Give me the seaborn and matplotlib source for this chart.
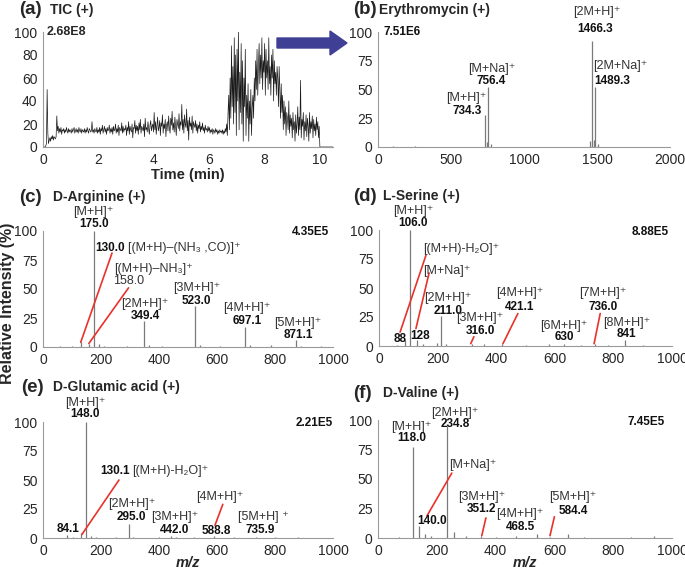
import numpy as np
import matplotlib
matplotlib.use('Agg')
import matplotlib.pyplot as plt
import matplotlib.patches as mpatches
import seaborn as sns

sns.set_style('white')
plt.rcParams['font.family'] = ['Liberation Sans', 'DejaVu Sans']

# (a) TIC, one reading every 0.025 min
tic_intensity = [
    0, 0, 0, 0, 1, 3, 50, 12, 3, 6, 8, 5, 9, 7, 10, 6, 9, 8, 7, 9,
    27, 14, 18, 12, 16, 13, 17, 11, 15, 14, 16, 12, 15, 13, 17, 14, 12, 16, 13, 15,
    14, 12, 16, 13, 15, 17, 12, 14, 16, 13, 15, 12, 17, 14, 13, 16, 12, 15, 14, 13,
    16, 12, 15, 13, 17, 14, 12, 16, 15, 13, 14, 22, 13, 15, 12, 16, 14, 13, 17, 12,
    15, 13, 17, 11, 16, 14, 19, 12, 15, 18, 13, 16, 11, 17, 14, 15, 19, 12, 16, 13,
    17, 11, 18, 14, 15, 20, 12, 16, 13, 19, 10, 17, 15, 14, 21, 12, 18, 13, 16, 15,
    19, 10, 17, 14, 22, 11, 18, 15, 13, 20, 8, 17, 16, 23, 12, 19, 14, 18, 11, 21,
    15, 24, 12, 18, 16, 14, 20, 9, 25, 15, 17, 13, 22, 16, 11, 19, 23, 14, 18, 20,
    13, 30, 15, 22, 11, 19, 26, 14, 17, 23, 10, 21, 18, 28, 12, 20, 16, 24, 9, 19,
    22, 14, 27, 17, 12, 25, 19, 31, 15, 21, 13, 26, 18, 10, 24, 20, 16, 29, 14, 22,
    19, 37, 15, 24, 12, 28, 20, 17, 33, 14, 23, 6, 26, 18, 21, 15, 27, 12, 22, 19,
    17, 23, 14, 20, 12, 19, 16, 22, 13, 18, 15, 21, 14, 17, 12, 19, 15, 16, 13, 18,
    14, 17, 12, 15, 13, 16, 11, 15, 14, 12, 16, 13, 15, 11, 14, 12, 15, 13, 14, 12,
    15, 11, 14, 12, 16, 13, 20, 10, 30, 45, 15, 60, 25, 88, 35, 70, 20, 95, 30, 80,
    10, 85, 40, 100, 15, 65, 30, 90, 20, 75, 5, 60, 35, 85, 10, 45, 25, 55, 5, 40,
    20, 50, 10, 35, 45, 25, 60, 40, 75, 50, 85, 45, 70, 90, 55, 80, 60, 95, 50, 75,
    65, 90, 45, 85, 60, 75, 50, 95, 55, 70, 45, 80, 60, 85, 40, 75, 55, 65, 45, 70,
    60, 35, 70, 50, 25, 55, 30, 45, 15, 40, 20, 35, 10, 30, 25, 15, 40, 12, 28, 18,
    25, 8, 30, 15, 22, 5, 28, 12, 20, 35, 10, 26, 15, 58, 8, 24, 18, 30, 6, 22,
    14, 28, 9, 25, 18, 5, 30, 12, 22, 16, 27, 8, 24, 14, 20, 10, 26, 15, 22, 8,
    18, 0, 0, 0, 0, 0, 0, 0, 0, 0, 0, 0, 0, 0, 0, 0, 0, 0, 0, 0, 0,
]
tic_time = np.arange(len(tic_intensity)) * 0.025

# (b) Erythromycin
ery_mz = [100, 250, 734.3, 745, 756.4, 772, 1450, 1466.3, 1478, 1489.3, 1505]
ery_int = [1, 1, 28, 4, 52, 3, 5, 92, 6, 52, 3]

# (c) D-Arginine
arg_mz = [60, 100, 130.0, 158.0, 175.0, 192, 210, 290, 349.4, 366, 410, 523.0,
          540, 610, 697.1, 715, 785, 871.1, 888, 960]
arg_int = [1, 1, 4, 3, 100, 3, 1, 1, 22, 2, 1, 35, 2, 1, 17, 2, 2, 6, 1, 1]

# (d) L-Serine
ser_mz = [60, 88, 106.0, 128, 150, 198, 211.0, 230, 316.0, 360, 421.1, 500,
          580, 630, 690, 736.0, 780, 841, 900]
ser_int = [1, 5, 100, 5, 2, 3, 26, 2, 2, 2, 2, 1, 2, 2, 1, 2, 1, 5, 1]

# (e) D-Glutamic acid
glu_mz = [84.1, 102, 130.1, 148.0, 166, 184, 250, 295.0, 312, 400, 442.0, 460,
          520, 588.8, 660, 735.9, 800, 880]
glu_int = [3, 1, 4, 100, 2, 1, 1, 12, 1, 1, 2, 1, 1, 2, 1, 1, 1, 1]

# (f) D-Valine
val_mz = [72, 118.0, 140.0, 160, 180, 234.8, 260, 300, 351.2, 400, 468.5, 540,
          584.4, 645, 700, 860, 940]
val_int = [1, 77, 10, 3, 2, 95, 5, 2, 2, 1, 2, 3, 1, 3, 1, 1, 2]

# annotations: (x, y, text, bold, ha)
ery_notes = [(608, 43, '[M+H]⁺', False, 'center'), (610, 31, '734.3', True, 'center'),
             (781, 68, '[M+Na]⁺', False, 'center'), (774, 57, '756.4', True, 'center'),
             (1500, 117, '[2M+H]⁺', False, 'center'), (1486, 103, '1466.3', True, 'center'),
             (1658, 70, '[2M+Na]⁺', False, 'center'), (1603, 57, '1489.3', True, 'center'),
             (40, 100, '7.51E6', True, 'left')]
arg_notes = [(175, 116, '[M+H]⁺', False, 'center'), (175, 106, '175.0', True, 'center'),
             (283, 85, '130.0', True, 'right'), (292, 85, '[(M+H)–(NH₃ ,CO)]⁺', False, 'left'),
             (380, 67, '[(M+H)–NH₃]⁺', False, 'center'), (295, 57, '158.0', False, 'center'),
             (352, 37, '[2M+H]⁺', False, 'center'), (352, 27, '349.4', True, 'center'),
             (530, 51, '[3M+H]⁺', False, 'center'), (530, 40, '523.0', True, 'center'),
             (703, 34, '[4M+H]⁺', False, 'center'), (703, 22, '697.1', True, 'center'),
             (880, 21, '[5M+H]⁺', False, 'center'), (880, 10, '871.1', True, 'center'),
             (985, 99, '4.35E5', True, 'right')]
arg_lines = [((130, 4), (238, 81)), ((158, 3), (295, 51))]

ser_notes = [(116, 116, '[M+H]⁺', False, 'center'), (116, 106, '106.0', True, 'center'),
             (280, 84, '[(M+H)-H₂O]⁺', False, 'center'),
             (232, 65, '[M+Na]⁺', False, 'center'),
             (72, 6, '88', True, 'center'), (140, 9, '128', True, 'center'),
             (236, 41, '[2M+H]⁺', False, 'center'), (236, 30, '211.0', True, 'center'),
             (345, 24, '[3M+H]⁺', False, 'center'), (345, 13, '316.0', True, 'center'),
             (481, 46, '[4M+H]⁺', False, 'center'), (481, 34, '421.1', True, 'center'),
             (632, 17, '[6M+H]⁺', False, 'center'), (632, 8, '630', True, 'center'),
             (765, 46, '[7M+H]⁺', False, 'center'), (765, 34, '736.0', True, 'center'),
             (845, 20, '[8M+H]⁺', False, 'center'), (845, 10, '841', True, 'center'),
             (990, 98, '8.88E5', True, 'right')]
ser_lines = [((72, 12), (160, 78)), ((126, 15), (171, 63)), ((313, 2), (324, 8)),
             ((423, 2), (474, 28)), ((734, 2), (755, 28))]

glu_notes = [(145, 116, '[M+H]⁺', False, 'center'), (145, 107, '148.0', True, 'center'),
             (300, 58, '130.1', True, 'right'), (307, 58, '[(M+H)-H₂O]⁺', False, 'left'),
             (86, 8, '84.1', True, 'center'),
             (306, 29, '[2M+H]⁺', False, 'center'), (306, 18, '295.0', True, 'center'),
             (455, 18, '[3M+H]⁺', False, 'center'), (455, 7, '442.0', True, 'center'),
             (610, 35, '[4M+H]⁺', False, 'center'), (597, 6, '588.8', True, 'center'),
             (760, 18, '[5M+H] ⁺', False, 'center'), (748, 7, '735.9', True, 'center'),
             (1000, 99, '2.21E5', True, 'right')]
glu_lines = [((134, 3), (262, 50)), ((593, 11), (620, 29))]

val_notes = [(115, 94, '[M+H]⁺', False, 'center'), (115, 85, '118.0', True, 'center'),
             (262, 106, '[2M+H]⁺', False, 'center'), (262, 97, '234.8', True, 'center'),
             (323, 62, '[M+Na]⁺', False, 'center'), (183, 14, '140.0', True, 'center'),
             (353, 35, '[3M+H]⁺', False, 'center'), (353, 25, '351.2', True, 'center'),
             (483, 20, '[4M+H]⁺', False, 'center'), (483, 9, '468.5', True, 'center'),
             (664, 35, '[5M+H]⁺', False, 'center'), (664, 23, '584.4', True, 'center'),
             (976, 98, '7.45E5', True, 'right')]
val_lines = [((167, 19), (251, 55)), ((353, 2), (367, 17)), ((585, 2), (600, 18))]

W, H = 685, 572
fig = plt.figure(figsize=(W / 100, H / 100), dpi=100)


def px_axes(x0, x1, ytop, ybot):
    return fig.add_axes([x0 / W, 1 - ybot / H, (x1 - x0) / W, (ybot - ytop) / H])


def style(ax, xlim, xticks, yticks):
    ax.set_xlim(*xlim)
    ax.set_ylim(0, 100)
    ax.set_xticks(xticks)
    ax.set_yticks(yticks)
    for s in ['top', 'right']:
        ax.spines[s].set_visible(False)
    for s in ['left', 'bottom']:
        ax.spines[s].set_color('#9a9a9a')
        ax.spines[s].set_linewidth(0.8)
    ax.tick_params(axis='y', direction='out', length=3, color='#9a9a9a', labelsize=10, pad=1)
    ax.tick_params(axis='x', direction='in', length=3, color='#9a9a9a', labelsize=10, pad=4)
    ax.set_xlabel('')
    ax.set_ylabel('')


def spectrum(ax, mz, inten, notes, lines=()):
    ax.vlines(mz, 0, inten, color='#7a7a7a', linewidth=0.9)
    for (x0, y0), (x1, y1) in lines:
        ax.plot([x0, x1], [y0, y1], color='#e8322b', linewidth=1.2, clip_on=False)
    for x, y, s, bold, ha in notes:
        ax.text(x, y, s, ha=ha, va='center', fontsize=8.5 if bold else 9,
                fontweight='bold' if bold else 'normal', color='#111' if bold else '#333',
                clip_on=False)


def panel_title(xl, xt, y, letter, name):
    fig.text(xl / W, 1 - y / H, letter, fontsize=13.5, fontweight='bold', va='center')
    fig.text(xt / W, 1 - y / H, name, fontsize=10, fontweight='bold', va='center')


# (a)
ax_a = px_axes(43, 333, 32, 147)
sns.lineplot(x=tic_time, y=tic_intensity, ax=ax_a, color='#1a1a1a', linewidth=0.5)
style(ax_a, (0, 10.5), range(0, 11, 2), range(0, 101, 20))
ax_a.text(0.12, 100, '2.68E8', fontsize=9, fontweight='bold', va='center')
ax_a.set_xlabel('Time (min)', fontsize=10.5, fontweight='bold', labelpad=1)
panel_title(19, 50, 10, '(a)', 'TIC (+)')

# (b)
ax_b = px_axes(378, 670, 32, 147)
style(ax_b, (0, 2000), range(0, 2001, 500), range(0, 101, 25))
spectrum(ax_b, ery_mz, ery_int, ery_notes)
panel_title(353, 379, 10, '(b)', 'Erythromycin (+)')

# (c)
ax_c = px_axes(43, 333, 231, 347)
style(ax_c, (0, 1000), range(0, 1001, 200), range(0, 101, 25))
spectrum(ax_c, arg_mz, arg_int, arg_notes, arg_lines)
panel_title(19, 53, 197, '(c)', 'D-Arginine (+)')

# (d)
ax_d = px_axes(379, 672, 230, 346)
style(ax_d, (0, 1000), range(0, 1001, 200), range(0, 101, 25))
spectrum(ax_d, ser_mz, ser_int, ser_notes, ser_lines)
panel_title(353, 383, 196, '(d)', 'L-Serine (+)')

# (e)
ax_e = px_axes(43, 333, 422, 538)
style(ax_e, (0, 1000), range(0, 1001, 200), range(0, 101, 25))
spectrum(ax_e, glu_mz, glu_int, glu_notes, glu_lines)
ax_e.set_xlabel('m/z', fontsize=10.5, fontweight='bold', fontstyle='italic', labelpad=-1)
panel_title(21, 53, 387, '(e)', 'D-Glutamic acid (+)')

# (f)
ax_f = px_axes(378, 672, 420, 538)
style(ax_f, (0, 1000), range(0, 1001, 200), range(0, 101, 25))
spectrum(ax_f, val_mz, val_int, val_notes, val_lines)
ax_f.set_xlabel('m/z', fontsize=10.5, fontweight='bold', fontstyle='italic', labelpad=-1)
panel_title(353, 383, 393, '(f)', 'D-Valine (+)')

fig.text(8 / W, 1 - 303 / H, 'Relative Intensity (%)', rotation=90, fontsize=11.5,
         fontweight='bold', ha='center', va='center')

# arrow from TIC to erythromycin spectrum
fig.patches.append(mpatches.FancyArrow(277 / W, 1 - 43 / H, 70 / W, 0, width=10 / H,
                                       head_width=24 / H, head_length=17 / W,
                                       length_includes_head=True, color='#3f3f96',
                                       transform=fig.transFigure, figure=fig))

fig.savefig('out.png', dpi=100)
